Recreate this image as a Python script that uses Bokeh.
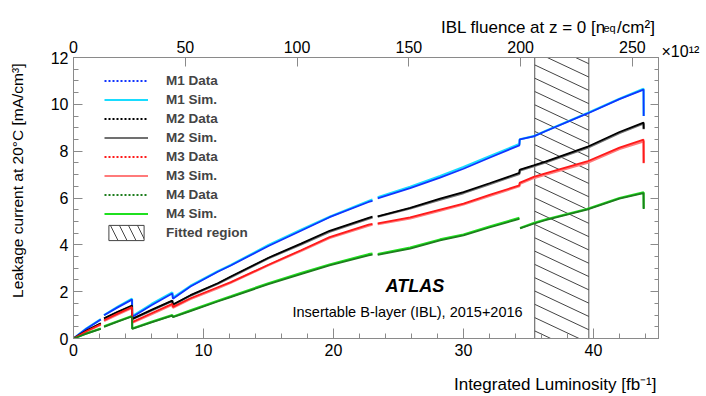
import math
from bokeh.plotting import figure
from bokeh.models import (Range1d, LinearAxis, FixedTicker, Label, Legend, LegendItem)
from bokeh.embed import file_html
from bokeh.resources import INLINE

nan = float("nan")

# ---------------- data ----------------
lum = [0, 1.0, 2.1, 2.2, 2.35, 3.4, 4.5, 4.52, 6.0, 7.6, 7.65, 9.0, 11.1, 12.1,
       15.0, 17.5, 19.7, 22.7, 23.0, 23.2, 23.4, 25.9, 28.2, 30.0, 32.0, 34.3,
       34.32, 34.35, 35.4, 36.3, 39.5, 42.0, 43.85, 43.86]

m1_data = [0, 0.42, 0.81, nan, 0.99, 1.33, 1.66, 0.92, 1.42, 1.92, 1.70, 2.22, 2.85, 3.12,
           3.95, 4.60, 5.18, 5.83, 5.88, nan, 5.98, 6.42, 6.87, 7.25, 7.72, 8.25,
           8.49, 8.50, 8.63, 8.85, 9.60, 10.22, 10.63, 9.50]
m1_sim = [0, 0.43, 0.82, nan, 1.00, 1.36, 1.70, 0.95, 1.47, 1.97, 1.74, 2.25, 2.87, 3.14,
          3.99, 4.64, 5.20, 5.87, 5.93, nan, 6.03, 6.48, 6.94, 7.32, 7.78, 8.30,
          8.50, 8.51, 8.64, 8.86, 9.62, 10.24, 10.66, 9.50]

m2_data = [0, 0.34, 0.65, nan, 0.86, 1.14, 1.41, 0.84, 1.22, 1.62, 1.45, 1.85, 2.36, 2.65,
           3.45, 4.05, 4.60, 5.15, 5.20, nan, 5.22, 5.58, 5.97, 6.25, 6.63, 7.07,
           7.20, 7.21, 7.39, 7.55, 8.18, 8.82, 9.22, 8.96]
m2_sim = [0, 0.33, 0.63, nan, 0.84, 1.12, 1.38, 0.82, 1.20, 1.60, 1.43, 1.83, 2.34, 2.62,
          3.43, 4.01, 4.56, 5.12, 5.17, nan, 5.20, 5.55, 5.93, 6.21, 6.59, 7.03,
          7.17, 7.18, 7.36, 7.52, 8.14, 8.78, 9.18, 8.94]

m3_data = [0, 0.31, 0.61, nan, 0.78, 1.06, 1.34, 0.70, 1.08, 1.48, 1.35, 1.72, 2.19, 2.41,
           3.15, 3.77, 4.33, 4.86, 4.90, nan, 4.92, 5.17, 5.50, 5.76, 6.13, 6.54,
           6.65, 6.66, 6.90, 7.05, 7.56, 8.15, 8.49, 7.50]
m3_sim = [0, 0.30, 0.59, nan, 0.75, 1.02, 1.30, 0.67, 1.04, 1.44, 1.31, 1.69, 2.15, 2.38,
          3.13, 3.74, 4.29, 4.82, 4.86, nan, 4.88, 5.13, 5.46, 5.72, 6.09, 6.50,
          6.60, 6.61, 6.85, 7.00, 7.50, 8.09, 8.42, 7.48]

m4_data = [0, 0.21, 0.41, nan, 0.50, 0.72, 0.94, 0.41, 0.69, 0.98, 0.91, 1.17, 1.58, 1.77,
           2.32, 2.75, 3.12, 3.55, 3.58, nan, 3.57, 3.84, 4.19, 4.40, 4.74, 5.11,
           nan, 4.70, 4.90, 5.05, 5.50, 5.97, 6.21, 5.53]
m4_sim = [0, 0.22, 0.43, nan, 0.52, 0.74, 0.96, 0.43, 0.71, 1.00, 0.93, 1.20, 1.61, 1.80,
          2.36, 2.79, 3.16, 3.60, 3.63, nan, 3.61, 3.88, 4.23, 4.44, 4.78, 5.15,
          nan, 4.72, 4.93, 5.08, 5.53, 6.00, 6.24, 5.55]

fit_region = (35.48, 39.64)          # fitted luminosity window [fb^-1]
fluence_per_lum = 5.815              # 1e12 n_eq/cm^2 per fb^-1 at z = 0

x_ticks = [0, 10, 20, 30, 40]
y_ticks = [0, 2, 4, 6, 8, 10, 12]
fluence_ticks = [0, 50, 100, 150, 200, 250]
x_max, y_max = 45, 12

modules = [
    ("M1", m1_data, m1_sim, "#1034ff", "#18dcff"),
    ("M2", m2_data, m2_sim, "#000000", "#707070"),
    ("M3", m3_data, m3_sim, "#ff1a1a", "#ff7a7a"),
    ("M4", m4_data, m4_sim, "#1d7d1d", "#1fe01f"),
]

# ---------------- figure ----------------
FONT = "Liberation Sans"
W, H = 706, 396
ML, MR, MT, MB = 73, 48, 57, 58
FX0, FX1 = ML, W - MR      # frame left / right (page px)
FY0, FY1 = MT, H - MB      # frame top / bottom (page px)

p = figure(width=W, height=H, x_range=Range1d(0, x_max), y_range=Range1d(0, y_max),
           output_backend="svg", toolbar_location=None,
           min_border_left=ML, min_border_right=MR, min_border_top=MT, min_border_bottom=MB)
p.xgrid.visible = False
p.ygrid.visible = False
p.outline_line_color = "#8a8a8a"
p.outline_line_width = 1
p.background_fill_color = "white"
p.border_fill_color = "white"

p.extra_x_ranges = {"fluence": Range1d(0, x_max * fluence_per_lum)}

AX = "#8a8a8a"


def style_axis(ax, major, minor, tin, min_in):
    ax.ticker = FixedTicker(ticks=major, minor_ticks=minor)
    ax.axis_line_color = AX
    ax.major_tick_line_color = AX
    ax.minor_tick_line_color = AX
    ax.major_tick_in = tin
    ax.major_tick_out = 0
    ax.minor_tick_in = min_in
    ax.minor_tick_out = 0
    ax.major_label_text_font = FONT
    ax.major_label_text_color = "black"
    ax.major_label_standoff = 5
    ax.major_label_text_font_size = "16px"


x_minor = [v for v in range(0, 46, 2)]
y_minor = [v / 2 for v in range(0, 25)]

style_axis(p.xaxis[0], x_ticks, x_minor, 10, 5)
style_axis(p.yaxis[0], y_ticks, y_minor, 9, 5)

top = LinearAxis(x_range_name="fluence")
style_axis(top, fluence_ticks, [], 9, 0)
p.add_layout(top, "above")

right = LinearAxis()
style_axis(right, y_ticks, y_minor, 8, 4)
right.major_label_standoff = 0
right.major_label_text_font_size = "0px"
right.major_label_text_color = None
p.add_layout(right, "right")

# ---------------- fitted region (hatched) ----------------
x_l, x_r = fit_region
p.quad(left=[x_l], right=[x_r], bottom=[0], top=[y_max], fill_alpha=0,
       line_color="#555555", line_width=1)

px_x = (W - ML - MR) / x_max
px_y = (H - MT - MB) / y_max
slope = -0.47 * px_x / px_y        # hatch direction (screen slope 0.47, falling)
gap = 13.3 / px_y                  # vertical spacing of hatch lines
x_anchor = x_l + 12.5 / px_x
hx0, hy0, hx1, hy1 = [], [], [], []
for k in range(-40, 40):
    yl = y_max + slope * (x_l - x_anchor) + k * gap
    yr = yl + slope * (x_r - x_l)
    xa, ya, xb, yb = x_l, yl, x_r, yr
    if ya > y_max:
        xa = x_l + (y_max - yl) / slope
        ya = y_max
    if yb < 0:
        xb = x_l + (0 - yl) / slope
        yb = 0
    if xa < xb and ya >= 0 and yb <= y_max and xa <= x_r and xb >= x_l:
        hx0.append(xa); hy0.append(ya); hx1.append(xb); hy1.append(yb)
p.segment(x0=hx0, y0=hy0, x1=hx1, y1=hy1, line_color="#444444", line_width=1)

# ---------------- curves ----------------
sim_r = {}
for name, d, s, cd, cs in modules:
    sim_r[name] = p.line(lum, s, line_color=cs, line_width=2.2)
for name, d, s, cd, cs in modules:
    p.line(lum, d, line_color=cd, line_width=1.8)

items = []
for name, d, s, cd, cs in modules:
    rd = p.line(lum, d, line_color=cd, line_width=2.2, line_dash="2 2", visible=False)
    items.append(LegendItem(label=f"{name} Data", renderers=[rd]))
    items.append(LegendItem(label=f"{name} Sim.", renderers=[sim_r[name]]))
rh = p.quad(left=[x_l], right=[x_r], top=[y_max], bottom=[0], fill_alpha=0,
            line_color="#444444", hatch_pattern="\\", hatch_color="#444444",
            hatch_scale=18, hatch_weight=1, visible=False)
items.append(LegendItem(label="Fitted region", renderers=[rh]))

legend = Legend(items=items, location=(31, 96), border_line_color=None,
                background_fill_alpha=0, padding=0, margin=0, spacing=0,
                glyph_width=44, glyph_height=19, label_height=19, label_standoff=18,
                label_text_font=FONT, label_text_font_size="13.5px",
                label_text_font_style="bold", click_policy="none")
p.add_layout(legend)


# ---------------- texts ----------------
def lab(place, text, x, y, size, align="left", style="normal", angle=0.0):
    p.add_layout(Label(x=x, y=y, x_units="screen", y_units="screen",
                       text=text, text_font=FONT, text_font_size=f"{size}px",
                       text_align=align, text_baseline="alphabetic",
                       text_font_style=style, angle=angle, text_color="black"), place)


def fh(size):            # estimated height of a text line (font metrics)
    return 1.117 * size


AXB = 5 + fh(16)         # estimated band of an axis with 16px tick labels
AXL = 5 + 2 * 0.556 * 16

# inside the frame (coordinates from frame bottom-left)
lab("center", "ATLAS", 385 - FX0, FY1 - 285, 18, style="bold italic")
lab("center", "Insertable B-layer (IBL), 2015+2016", 292 - FX0, FY1 - 311, 14.5)

# top title (panel above the fluence axis)
band_top = FY0 - AXB
lab("above", "IBL fluence at z = 0 [n\u2002\u2009/cm\u00b2]", 655 - FX0, band_top - 24, 17, "right")

# bottom title (panel below the luminosity axis)
band_bot = FY1 + AXB + fh(17)
lab("below", "Integrated Luminosity [fb\u207b\u00b9]", 656 - FX0, band_bot - 387, 17, "right")

# left panel: y title and the "eq" subscript of the top title
yband_left = FX0 - AXL - fh(15.5)
lab("left", "Leakage current at 20\u00b0C [mA/cm\u00b3]", 19.5 - yband_left, FY1 - 63, 15.5,
    "right", angle=math.pi / 2)
eqband_left = yband_left - fh(11)
lab("left", "eq", 605.5 - eqband_left, FY1 - 27.5, 11)

# right panel: exponent of the fluence axis
lab("right", "\u00d710\u00b9\u00b2", 661 - FX1, FY1 - 51, 16)

open("out.html", "w").write(file_html(p, INLINE))
